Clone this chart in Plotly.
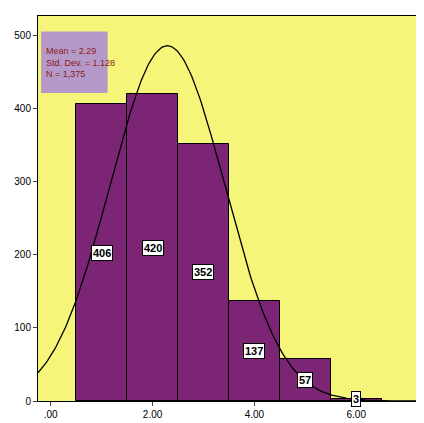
import numpy as np
import plotly.graph_objects as go

centers = [1, 2, 3, 4, 5, 6]
counts = [406, 420, 352, 137, 57, 3]
tick_vals = [0, 2, 4, 6]
tick_text = [".00", "2.00", "4.00", "6.00"]
mean, sd, n = 2.29, 1.128, 1375

fig = go.Figure()
fig.add_trace(go.Bar(x=centers, y=counts, width=1, marker=dict(color="#7b2574", line=dict(color="black", width=1))))
xs = np.linspace(-0.25, 7.35, 300)
ys = n * np.exp(-0.5 * ((xs - mean) / sd) ** 2) / (sd * np.sqrt(2 * np.pi))
fig.add_trace(go.Scatter(x=xs, y=ys, mode="lines", line=dict(color="black", width=1.3)))
for c, v in zip(centers, counts):
    fig.add_annotation(x=c, y=v / 2 if v > 10 else v, text=f"<b>{v}</b>", showarrow=False,
                       bgcolor="white", bordercolor="black", borderwidth=1, borderpad=1,
                       font=dict(size=11, color="black", family="Arial"))
fig.add_shape(type="rect", xref="paper", yref="paper", x0=0.008, x1=0.18, y0=0.8, y1=0.96,
              fillcolor="#b59ac9", line=dict(width=0), layer="above")
fig.add_annotation(xref="paper", yref="paper", x=0.015, y=0.88, xanchor="left", yanchor="middle", align="left",
                   showarrow=False, text="Mean = 2.29<br>Std. Dev. = 1.128<br>N = 1,375",
                   font=dict(size=9, color="#8b1a1a", family="Arial"))
fig.update_layout(width=424, height=423, margin=dict(l=28, r=6, t=8, b=30), showlegend=False,
                  plot_bgcolor="#f5f57a", paper_bgcolor="white", bargap=0,
                  xaxis=dict(range=[-0.25, 7.35], tickvals=tick_vals, ticktext=tick_text, showgrid=False,
                             zeroline=False, ticks="outside", ticklen=4, showline=True, linecolor="black",
                             mirror=True, tickfont=dict(size=10, family="Arial", color="black")),
                  yaxis=dict(range=[0, 527], tickvals=[0, 100, 200, 300, 400, 500], showgrid=False,
                             zeroline=False, ticks="outside", ticklen=4, showline=True, linecolor="black",
                             mirror=True, tickfont=dict(size=10, family="Arial", color="black")))
fig.write_html("out.html")
